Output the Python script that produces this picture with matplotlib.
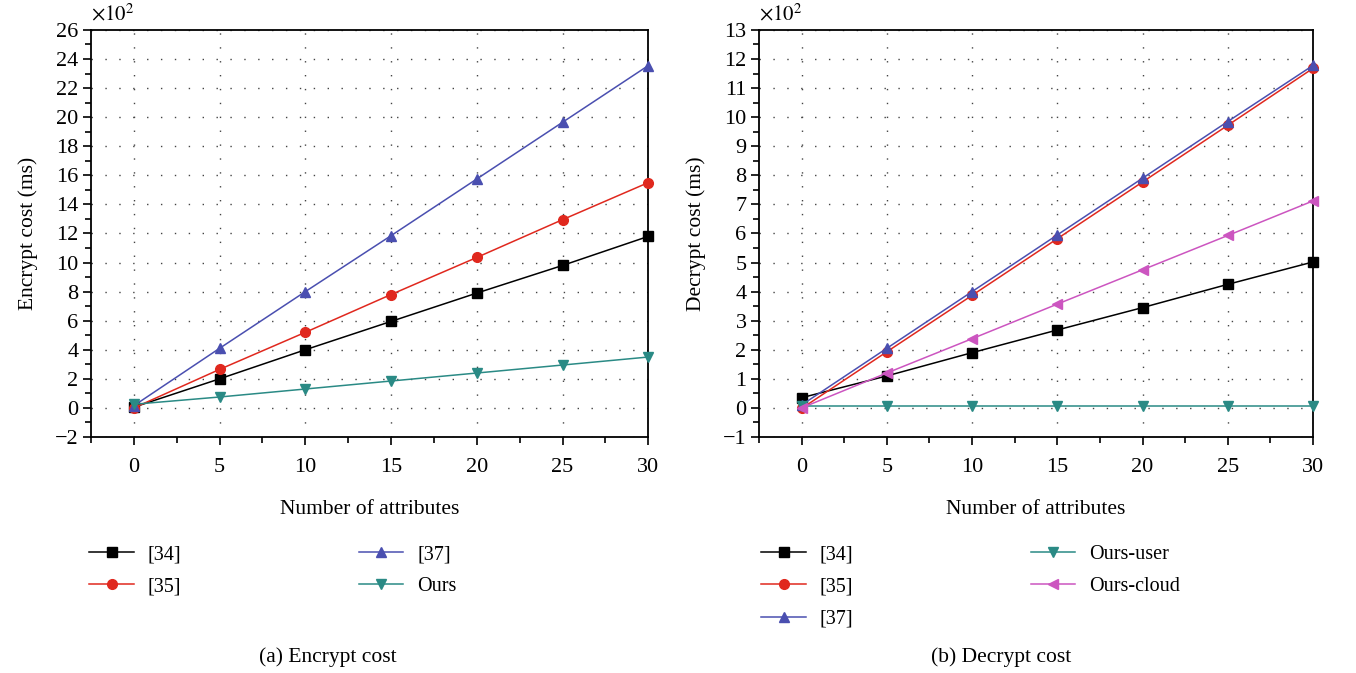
import matplotlib.pyplot as plt
import numpy as np

plt.rcParams['font.family'] = ['Liberation Serif', 'DejaVu Serif']
plt.rcParams['mathtext.fontset'] = 'stix'

# data (values in units of 10^2 ms)
attrs = [0, 5, 10, 15, 20, 25, 30]

enc_34 = [0.05, 2.0, 4.0, 5.95, 7.9, 9.8, 11.8]
enc_35 = [0.0, 2.65, 5.2, 7.8, 10.35, 12.95, 15.5]
enc_37 = [0.15, 4.1, 8.0, 11.85, 15.75, 19.65, 23.55]
enc_ours = [0.25, 0.75, 1.3, 1.85, 2.4, 2.95, 3.5]

dec_34 = [0.35, 1.1, 1.9, 2.68, 3.45, 4.25, 5.02]
dec_35 = [-0.02, 1.93, 3.87, 5.82, 7.77, 9.72, 11.68]
dec_37 = [0.1, 2.05, 4.0, 5.95, 7.9, 9.85, 11.78]
dec_user = [0.08, 0.08, 0.08, 0.08, 0.08, 0.08, 0.08]
dec_cloud = [0.0, 1.2, 2.38, 3.57, 4.75, 5.93, 7.12]

c_black = 'black'
c_red = '#e0281e'
c_blue = '#4a4fb0'
c_teal = '#2a8a85'
c_mag = '#cc55c0'

fig = plt.figure(figsize=(13.56, 6.73), dpi=100)
ax1 = fig.add_axes([0.0671, 0.3507, 0.411, 0.6048])
ax2 = fig.add_axes([0.5597, 0.3507, 0.4086, 0.6048])


def style_axes(ax, ylim, ymajor, yminor, ylabel):
    ax.set_xlim(-2.5, 30)
    ax.set_ylim(*ylim)
    ax.set_xticks(attrs)
    ax.set_xticks(np.arange(-2.5, 30.1, 2.5), minor=True)
    ax.set_yticks(np.arange(ylim[0], ylim[1] + 0.01, ymajor))
    ax.set_yticks(np.arange(ylim[0], ylim[1] + 0.01, yminor), minor=True)
    ax.grid(True, which='major', linestyle=(0, (1, 9)), color='#444444', linewidth=1.0)
    ax.tick_params(which='both', direction='out', labelsize=16, width=1.2)
    ax.tick_params(axis='x', which='major', pad=9)
    ax.tick_params(axis='y', which='major', pad=3)
    ax.tick_params(which='major', length=6)
    ax.tick_params(which='minor', length=4)
    ax.set_xlabel('Number of attributes', fontsize=15.5, labelpad=17)
    ax.set_ylabel(ylabel, fontsize=15.5, labelpad=12)
    ax.text(0.0, 1.012, r'$\times10^2$', transform=ax.transAxes, fontsize=15,
            ha='left', va='bottom')
    for s in ax.spines.values():
        s.set_linewidth(1.3)


kw = dict(linewidth=1.1, markersize=7, clip_on=False, zorder=3)
h1 = ax1.plot(attrs, enc_34, color=c_black, marker='s', label='[34]', **kw)
h2 = ax1.plot(attrs, enc_35, color=c_red, marker='o', label='[35]', **kw)
h3 = ax1.plot(attrs, enc_37, color=c_blue, marker='^', label='[37]', **kw)
h4 = ax1.plot(attrs, enc_ours, color=c_teal, marker='v', label='Ours', **kw)
style_axes(ax1, (-2, 26), 2, 1, 'Encrypt cost (ms)')

g1 = ax2.plot(attrs, dec_34, color=c_black, marker='s', label='[34]', **kw)
g2 = ax2.plot(attrs, dec_35, color=c_red, marker='o', label='[35]', **kw)
g3 = ax2.plot(attrs, dec_37, color=c_blue, marker='^', label='[37]', **kw)
g4 = ax2.plot(attrs, dec_user, color=c_teal, marker='v', label='Ours-user', **kw)
g5 = ax2.plot(attrs, dec_cloud, color=c_mag, marker='<', label='Ours-cloud', **kw)
style_axes(ax2, (-1, 13), 1, 0.5, 'Decrypt cost (ms)')

leg_kw = dict(ncol=2, frameon=False, fontsize=14.5, handlelength=2.2,
              handletextpad=0.7, columnspacing=8.8, borderpad=0,
              borderaxespad=0, labelspacing=0.65)
fig.legend(handles=h1 + h2 + h3 + h4, loc='upper left',
           bbox_to_anchor=(0.066, 0.19), **leg_kw)
fig.legend(handles=g1 + g2 + g3 + g4 + g5, loc='upper left',
           bbox_to_anchor=(0.5615, 0.19), **leg_kw)

fig.text(0.242, 0.024, '(a) Encrypt cost', fontsize=15.5, ha='center', va='center')
fig.text(0.738, 0.024, '(b) Decrypt cost', fontsize=15.5, ha='center', va='center')

fig.savefig('out.png', dpi=100)
